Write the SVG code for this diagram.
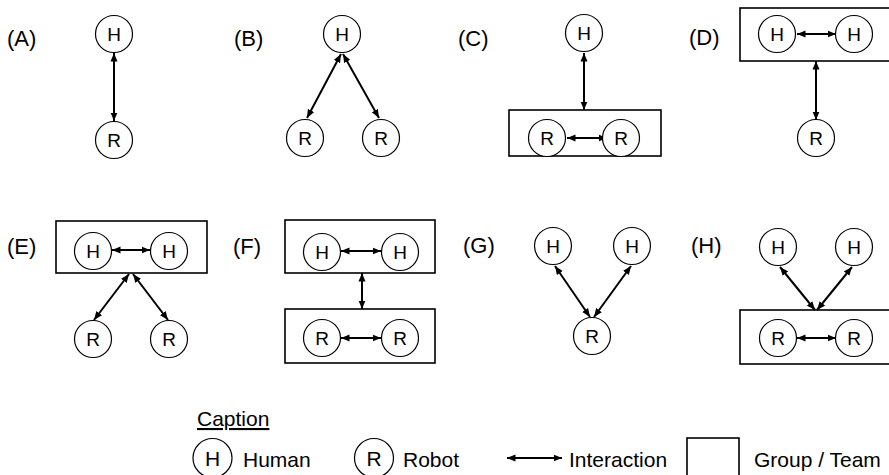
<svg xmlns="http://www.w3.org/2000/svg" width="889" height="475" viewBox="0 0 889 475">
  <style>
    .node circle { fill: #fff; stroke: #000; stroke-width: 1.2; }
    .node text { font-family: "Liberation Sans", Arial, sans-serif; font-size: 19px; text-anchor: middle; fill: #000; }
    .team { fill: none; stroke: #000; stroke-width: 1.6; }
    .label { font-family: "Liberation Sans", Arial, sans-serif; font-size: 22px; fill: #000; }
    .link { stroke: #000; stroke-width: 2; fill: none; marker-start: url(#head); marker-end: url(#head); }
    .key { font-family: "Liberation Sans", Arial, sans-serif; font-size: 21px; fill: #000; }
  </style>
  <defs>
    <marker id="head" markerUnits="userSpaceOnUse" markerWidth="9" markerHeight="8" refX="8.5" refY="4" orient="auto-start-reverse">
      <path d="M0,0.5 L8.5,4 L0,7.5 z" fill="#000"/>
    </marker>
  </defs>

  <rect width="889" height="475" fill="#fff"/>

  <!-- panel labels -->
  <g id="labels">
    <text class="label" x="7" y="46">(A)</text>
    <text class="label" x="234" y="46">(B)</text>
    <text class="label" x="458" y="46">(C)</text>
    <text class="label" x="689" y="45">(D)</text>
    <text class="label" x="7" y="254">(E)</text>
    <text class="label" x="233" y="254">(F)</text>
    <text class="label" x="463" y="253">(G)</text>
    <text class="label" x="691" y="253">(H)</text>
  </g>

  <!-- group / team boxes -->
  <g id="teams">
    <rect id="teamC" class="team" x="509" y="110" width="152" height="46"/>
    <rect id="teamD" class="team" x="740" y="8" width="160" height="53"/>
    <rect id="teamE" class="team" x="56" y="221" width="151" height="52"/>
    <rect id="teamF1" class="team" x="285" y="220" width="150" height="53"/>
    <rect id="teamF2" class="team" x="285" y="309" width="150" height="54"/>
    <rect id="teamH" class="team" x="740" y="310" width="160" height="54"/>
  </g>

  <!-- interactions -->
  <g id="connectors">
    <!-- A -->
    <line class="link" x1="114" y1="53" x2="114" y2="121"/>
    <!-- B -->
    <line class="link" x1="341" y1="54" x2="307" y2="118"/>
    <line class="link" x1="343" y1="54" x2="379" y2="118"/>
    <!-- C -->
    <line class="link" x1="567" y1="138" x2="607" y2="138"/>
    <line class="link" x1="584" y1="53" x2="584" y2="110"/>
    <!-- D -->
    <line class="link" x1="797" y1="34" x2="836" y2="34"/>
    <line class="link" x1="816" y1="61" x2="816" y2="120"/>
    <!-- E -->
    <line class="link" x1="112" y1="250" x2="150" y2="250"/>
    <line class="link" x1="129" y1="274" x2="94" y2="320"/>
    <line class="link" x1="133" y1="274" x2="168" y2="320"/>
    <!-- F -->
    <line class="link" x1="341" y1="251" x2="381" y2="251"/>
    <line class="link" x1="362" y1="273" x2="362" y2="309"/>
    <line class="link" x1="341" y1="338" x2="381" y2="338"/>
    <!-- G -->
    <line class="link" x1="590" y1="317" x2="555" y2="266"/>
    <line class="link" x1="594" y1="317" x2="631" y2="266"/>
    <!-- H -->
    <line class="link" x1="815" y1="310" x2="780" y2="267"/>
    <line class="link" x1="817" y1="310" x2="852" y2="267"/>
    <line class="link" x1="797" y1="338" x2="836" y2="338"/>
  </g>

  <!-- A -->
  <g id="A-H" class="node"><circle cx="114" cy="34" r="18.5"/><text x="114" y="41">H</text></g>
  <g id="A-R" class="node"><circle cx="114" cy="140" r="18.5"/><text x="114" y="147">R</text></g>
  <!-- B -->
  <g id="B-H" class="node"><circle cx="342" cy="34" r="18.5"/><text x="342" y="41">H</text></g>
  <g id="B-R1" class="node"><circle cx="305" cy="138" r="18.5"/><text x="305" y="145">R</text></g>
  <g id="B-R2" class="node"><circle cx="381" cy="138" r="18.5"/><text x="381" y="145">R</text></g>
  <!-- C -->
  <g id="C-H" class="node"><circle cx="584" cy="33" r="18.5"/><text x="584" y="40">H</text></g>
  <g id="C-R1" class="node"><circle cx="547" cy="138" r="18.5"/><text x="547" y="145">R</text></g>
  <g id="C-R2" class="node"><circle cx="621" cy="138" r="18.5"/><text x="621" y="145">R</text></g>
  <!-- D -->
  <g id="D-H1" class="node"><circle cx="777" cy="34" r="18.5"/><text x="777" y="41">H</text></g>
  <g id="D-H2" class="node"><circle cx="854" cy="34" r="18.5"/><text x="854" y="41">H</text></g>
  <g id="D-R" class="node"><circle cx="816" cy="138" r="18.5"/><text x="816" y="145">R</text></g>
  <!-- E -->
  <g id="E-H1" class="node"><circle cx="93" cy="251" r="18.5"/><text x="93" y="258">H</text></g>
  <g id="E-H2" class="node"><circle cx="169" cy="251" r="18.5"/><text x="169" y="258">H</text></g>
  <g id="E-R1" class="node"><circle cx="93" cy="339" r="18.5"/><text x="93" y="346">R</text></g>
  <g id="E-R2" class="node"><circle cx="169" cy="339" r="18.5"/><text x="169" y="346">R</text></g>
  <!-- F -->
  <g id="F-H1" class="node"><circle cx="322" cy="252" r="18.5"/><text x="322" y="259">H</text></g>
  <g id="F-H2" class="node"><circle cx="400" cy="252" r="18.5"/><text x="400" y="259">H</text></g>
  <g id="F-R1" class="node"><circle cx="322" cy="338" r="18.5"/><text x="322" y="345">R</text></g>
  <g id="F-R2" class="node"><circle cx="400" cy="338" r="18.5"/><text x="400" y="345">R</text></g>
  <!-- G -->
  <g id="G-H1" class="node"><circle cx="553" cy="246" r="18.5"/><text x="553" y="253">H</text></g>
  <g id="G-H2" class="node"><circle cx="632" cy="246" r="18.5"/><text x="632" y="253">H</text></g>
  <g id="G-R" class="node"><circle cx="592" cy="336" r="18.5"/><text x="592" y="343">R</text></g>
  <!-- H -->
  <g id="H-H1" class="node"><circle cx="778" cy="247" r="18.5"/><text x="778" y="254">H</text></g>
  <g id="H-H2" class="node"><circle cx="854" cy="247" r="18.5"/><text x="854" y="254">H</text></g>
  <g id="H-R1" class="node"><circle cx="778" cy="338" r="18.5"/><text x="778" y="345">R</text></g>
  <g id="H-R2" class="node"><circle cx="854" cy="338" r="18.5"/><text x="854" y="345">R</text></g>

  <!-- legend -->
  <g id="legend">
    <text class="key" x="197" y="426" text-decoration="underline">Caption</text>
    <g id="key-human" class="node"><circle cx="212.5" cy="458" r="19.5"/><text x="212.5" y="466" style="font-size:21px">H</text></g>
    <text class="key" x="243" y="467">Human</text>
    <g id="key-robot" class="node"><circle cx="374" cy="458" r="19.5"/><text x="374" y="466" style="font-size:21px">R</text></g>
    <text class="key" x="403" y="467">Robot</text>
    <line class="link" x1="507" y1="458" x2="562" y2="458"/>
    <text class="key" x="569" y="467">Interaction</text>
    <rect class="team" x="687" y="438" width="52" height="45"/>
    <text class="key" x="754" y="467">Group / Team</text>
  </g>
</svg>
